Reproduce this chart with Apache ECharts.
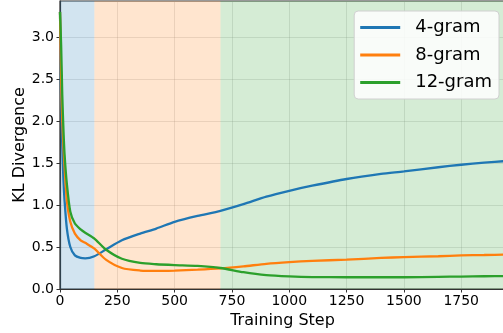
<!DOCTYPE html>
<html>
<head>
<meta charset="utf-8">
<script src="https://cdn.jsdelivr.net/npm/echarts@6/dist/echarts.min.js"></script>
<style>
  html, body { margin: 0; padding: 0; background: #fff; }
  #chart { width: 503px; height: 333px; }
</style>
</head>
<body>
<div id="chart"></div>
<script>
// Training steps at which KL divergence was sampled
const steps = [0, 5, 10, 15, 20, 30, 45, 65, 90, 110, 150, 200, 270, 350, 420, 500, 600, 700,
               800, 900, 1000, 1100, 1250, 1400, 1500, 1650, 1750, 1850, 1950];

// KL divergence per n-gram order
const kl4 = [3.3, 2.3, 1.7, 1.3, 1.05, 0.72, 0.5, 0.4, 0.37, 0.365, 0.39, 0.47, 0.58, 0.66, 0.72, 0.8, 0.87, 0.93,
             1.01, 1.1, 1.17, 1.23, 1.31, 1.37, 1.4, 1.45, 1.48, 1.505, 1.525];
const kl8 = [3.3, 2.5, 2.0, 1.7, 1.45, 1.05, 0.8, 0.66, 0.58, 0.55, 0.48, 0.35, 0.25, 0.22, 0.215, 0.22, 0.23, 0.245,
             0.27, 0.3, 0.32, 0.335, 0.35, 0.37, 0.38, 0.39, 0.4, 0.405, 0.41];
const kl12 = [3.3, 2.9, 2.3, 1.9, 1.6, 1.25, 0.92, 0.78, 0.71, 0.67, 0.6, 0.47, 0.36, 0.31, 0.295, 0.285, 0.275, 0.25,
              0.2, 0.165, 0.15, 0.142, 0.14, 0.14, 0.14, 0.145, 0.148, 0.152, 0.155];

const seriesNames = ['4-gram', '8-gram', '12-gram'];
const seriesColors = ['#1f77b4', '#ff7f0e', '#2ca02c'];

// Training phases shaded behind the curves: [start, end]
const phases = [[0, 150], [150, 700], [700, 1941]];

const xMin = 0, xMax = 1941, xInterval = 250;
const yMin = 0, yMax = 3.43, yInterval = 0.5;

const font = 'DejaVu Sans';
const chart = echarts.init(document.getElementById('chart'), null, { renderer: 'canvas' });

const allSeries = [kl4, kl8, kl12].map((vals, i) => ({
  name: seriesNames[i],
  type: 'line',
  data: steps.map((s, j) => [s, vals[j]]),
  showSymbol: false,
  symbol: 'none',
  smooth: 0.25,
  clip: true,
  lineStyle: { color: seriesColors[i], width: 2.3 },
  itemStyle: { color: seriesColors[i] },
  z: 3,
  markArea: i === 0 ? {
    silent: true,
    z: 1,
    data: phases.map((p, k) => [
      { xAxis: p[0], itemStyle: { color: seriesColors[k], opacity: 0.2 } },
      { xAxis: p[1] }
    ])
  } : undefined
}));

chart.setOption({
  animation: false,
  backgroundColor: '#fff',
  textStyle: { fontFamily: font },
  grid: {
    left: 60, top: 1, right: -2, bottom: 44,
    outerBoundsMode: 'none',
    containLabel: false,
    show: true, borderColor: '#333', borderWidth: 1.2, backgroundColor: 'transparent'
  },
  legend: {
    orient: 'vertical',
    right: 4, top: 11,
    padding: [6, 7, 6, 6],
    itemWidth: 40, itemHeight: 3,
    itemGap: 6.5,
    icon: 'rect',
    backgroundColor: 'rgba(255,255,255,0.85)',
    borderColor: '#d0d0d0', borderWidth: 1, borderRadius: 4,
    textStyle: { fontFamily: font, fontSize: 18, color: '#000', padding: [0, 0, 0, 10], lineHeight: 21 },
    data: seriesNames
  },
  xAxis: {
    type: 'value',
    min: xMin, max: xMax, interval: xInterval,
    name: 'Training Step', nameLocation: 'middle', nameGap: 24,
    nameMoveOverlap: false,
    nameTextStyle: { fontFamily: font, fontSize: 16, color: '#000' },
    axisLine: { show: true, lineStyle: { color: '#333', width: 1.2 } },
    axisTick: { show: true, inside: false, length: 3.5, lineStyle: { color: '#333' } },
    axisLabel: {
      fontFamily: font, fontSize: 14, color: '#000', margin: 5, showMaxLabel: false,
      formatter: v => String(v)
    },
    splitLine: { show: true, lineStyle: { color: 'rgba(150,150,150,0.25)', width: 1 } }
  },
  yAxis: {
    type: 'value',
    min: yMin, max: yMax, interval: yInterval,
    name: 'KL Divergence', nameLocation: 'middle', nameGap: 32, nameRotate: 90,
    nameMoveOverlap: false,
    nameTextStyle: { fontFamily: font, fontSize: 16, color: '#000' },
    axisLine: { show: true, lineStyle: { color: '#333', width: 1.2 } },
    axisTick: { show: true, inside: false, length: 3.5, lineStyle: { color: '#333' } },
    axisLabel: {
      fontFamily: font, fontSize: 14, color: '#000', margin: 6, showMaxLabel: false,
      formatter: v => v.toFixed(1)
    },
    splitLine: { show: true, lineStyle: { color: 'rgba(150,150,150,0.25)', width: 1 } }
  },
  series: allSeries
});
</script>
</body>
</html>
